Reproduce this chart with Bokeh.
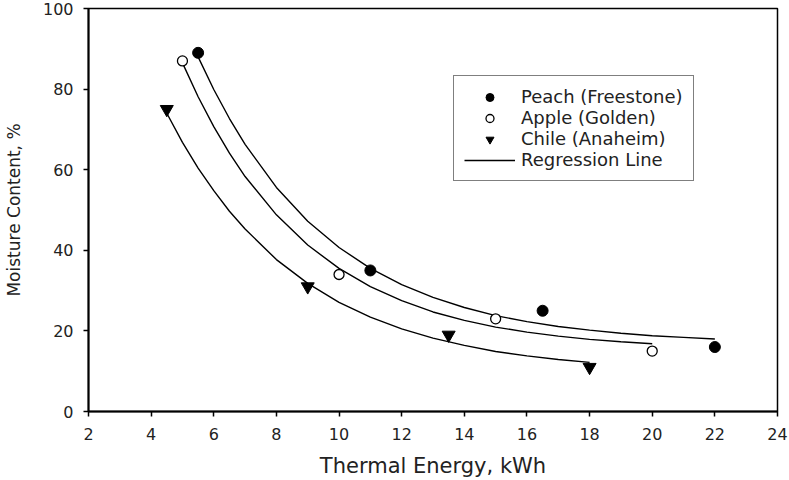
from bokeh.plotting import figure
from bokeh.models import Range1d, FixedTicker, Legend, LegendItem
from bokeh.embed import file_html
from bokeh.resources import INLINE

# ---- data ----
peach_x = [5.5, 11, 16.5, 22]
peach_y = [89, 35, 25, 16]
apple_x = [5, 10, 15, 20]
apple_y = [87, 34, 23, 15]
chile_x = [4.5, 9, 13.5, 18]
chile_y = [75, 31, 19, 11]

# regression curves
peach_fit_x = [5.5, 6, 6.5, 7, 8, 9, 10, 11, 12, 13, 14, 15, 16, 17, 18, 19, 20, 21, 22]
peach_fit_y = [88.0, 79.9, 72.7, 66.3, 55.6, 47.2, 40.7, 35.5, 31.5, 28.3, 25.8, 23.8,
               22.3, 21.1, 20.2, 19.4, 18.8, 18.4, 18.0]
apple_fit_x = [5, 5.5, 6, 6.5, 7, 8, 9, 10, 11, 12, 13, 14, 15, 16, 17, 18, 19, 20]
apple_fit_y = [86.5, 78.1, 70.7, 64.1, 58.3, 48.8, 41.3, 35.5, 31.0, 27.5, 24.7, 22.6,
               20.95, 19.7, 18.7, 17.9, 17.3, 16.8]
chile_fit_x = [4.5, 5, 5.5, 6, 6.5, 7, 8, 9, 10, 11, 12, 13, 14, 15, 16, 17, 18]
chile_fit_y = [74.0, 66.8, 60.4, 54.8, 49.7, 45.3, 37.7, 31.8, 27.1, 23.4, 20.5, 18.2,
               16.4, 14.9, 13.8, 12.9, 12.2]

x_ticks = [2, 4, 6, 8, 10, 12, 14, 16, 18, 20, 22, 24]
y_ticks = [0, 20, 40, 60, 80, 100]

FONT = "DejaVu Sans"
TXT = "#222222"

p = figure(width=789, height=480, output_backend="svg", toolbar_location=None,
           x_range=Range1d(2, 24), y_range=Range1d(0, 100),
           min_border_left=84, min_border_right=12, min_border_top=8, min_border_bottom=69)
p.background_fill_color = "white"
p.border_fill_color = "white"
p.outline_line_color = "black"
p.outline_line_width = 1.5
p.xgrid.visible = False
p.ygrid.visible = False

for ax in (p.xaxis[0], p.yaxis[0]):
    ax.axis_line_color = "black"
    ax.axis_line_width = 2
    ax.major_tick_line_color = "black"
    ax.major_tick_line_width = 1.5
    ax.major_tick_out = 5
    ax.major_tick_in = 0
    ax.minor_tick_line_color = None
    ax.major_label_text_font = FONT
    ax.major_label_text_font_size = "16px"
    ax.major_label_text_color = TXT
    ax.axis_label_text_font = FONT
    ax.axis_label_text_font_style = "normal"
    ax.axis_label_text_color = TXT

p.xaxis.ticker = FixedTicker(ticks=x_ticks)
p.yaxis.ticker = FixedTicker(ticks=y_ticks)
p.xaxis.axis_label = "Thermal Energy, kWh"
p.yaxis.axis_label = "Moisture Content, %"
p.xaxis.axis_label_text_font_size = "21px"
p.yaxis.axis_label_text_font_size = "17px"
p.xaxis.major_label_standoff = 11
p.yaxis.major_label_standoff = 10
p.xaxis.axis_label_standoff = 11
p.yaxis.axis_label_standoff = 16

lw = 1.4
l1 = p.line(peach_fit_x, peach_fit_y, line_color="black", line_width=lw)
p.line(apple_fit_x, apple_fit_y, line_color="black", line_width=lw)
p.line(chile_fit_x, chile_fit_y, line_color="black", line_width=lw)

s1 = p.scatter(peach_x, peach_y, marker="circle", size=11, fill_color="black",
               line_color="black")
s2 = p.scatter(apple_x, apple_y, marker="circle", size=10, fill_color="white",
               line_color="black", line_width=1.3)
s3 = p.scatter(chile_x, chile_y, marker="inverted_triangle", size=13, fill_color="black",
               line_color="black")

legend = Legend(items=[
    LegendItem(label="Peach (Freestone)", renderers=[s1]),
    LegendItem(label="Apple (Golden)", renderers=[s2]),
    LegendItem(label="Chile (Anaheim)", renderers=[s3]),
    LegendItem(label="Regression Line", renderers=[l1]),
], location=(365, 230))
legend.border_line_color = "black"
legend.border_line_width = 1.2
legend.background_fill_color = "white"
legend.background_fill_alpha = 1
legend.label_text_font = FONT
legend.label_text_font_size = "18px"
legend.label_text_color = TXT
legend.glyph_width = 51
legend.glyph_height = 20
legend.label_height = 20
legend.spacing = 0
legend.padding = 10
legend.margin = 0
legend.label_standoff = 6
p.add_layout(legend, "center")

open("out.html", "w").write(file_html(p, INLINE))
